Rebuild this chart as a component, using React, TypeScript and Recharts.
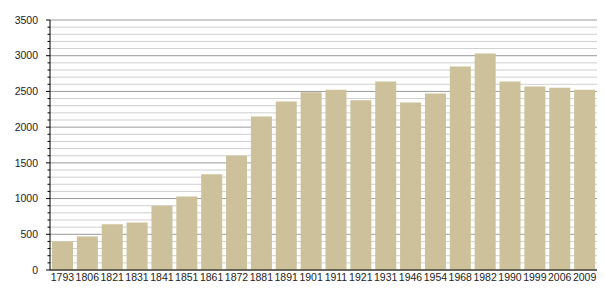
import React from 'react';
import { BarChart, Bar, XAxis, YAxis, CartesianGrid } from 'recharts';

const years = ['1793','1806','1821','1831','1841','1851','1861','1872','1881','1891','1901','1911','1921','1931','1946','1954','1968','1982','1990','1999','2006','2009'];
const population = [400,470,640,665,900,1030,1340,1600,2150,2360,2490,2525,2375,2640,2345,2470,2850,3030,2640,2570,2550,2525];
const yTicks = [0,100,200,300,400,500,600,700,800,900,1000,1100,1200,1300,1400,1500,1600,1700,1800,1900,2000,2100,2200,2300,2400,2500,2600,2700,2800,2900,3000,3100,3200,3300,3400,3500];

const data = years.map((y, i) => ({ year: y, value: population[i] }));

const FONT = '"Liberation Sans", Arial, sans-serif';

const YTick = (props: any) => {
  const { x, y, payload } = props;
  const v = payload.value as number;
  const major = v % 500 === 0;
  const axisX = x + 12;
  return (
    <g>
      <line x1={axisX - (major ? 4 : 2.5)} x2={axisX} y1={y} y2={y} stroke="#000" strokeWidth={1} />
      {major && (
        <text x={x} y={y} dy="0.35em" textAnchor="end" fontSize={10.5} fontFamily={FONT} fill="#222">
          {v}
        </text>
      )}
    </g>
  );
};

const GridLine = (props: any) => {
  const { x1, x2, y1, y2, index } = props;
  const major = index % 5 === 0;
  return <line x1={x1} x2={x2} y1={y1} y2={y2} stroke={major ? '#9a9a9a' : '#cfcfcf'} strokeWidth={1} />;
};

export default function App() {
  return (
    <div style={{ position: 'absolute', left: 0, top: 0, background: '#fff' }}>
      <BarChart width={605} height={300} data={data} margin={{ top: 20, right: 8, left: 0, bottom: 0 }}>
        <CartesianGrid vertical={false} horizontal={GridLine as any} />
        <XAxis
          dataKey="year"
          height={30}
          interval={0}
          tickLine={false}
          tickSize={0}
          tickMargin={4}
          axisLine={{ stroke: '#000', strokeWidth: 1 }}
          tick={{ fontSize: 10.5, fontFamily: FONT, fill: '#222' }}
        />
        <YAxis
          width={50}
          domain={[0, 3500]}
          ticks={yTicks}
          interval={0}
          tickLine={false}
          tickSize={0}
          tickMargin={12}
          axisLine={{ stroke: '#000', strokeWidth: 1 }}
          tick={<YTick />}
        />
        <Bar dataKey="value" fill="#ccc19a" barSize={21} isAnimationActive={false} />
      </BarChart>
    </div>
  );
}
